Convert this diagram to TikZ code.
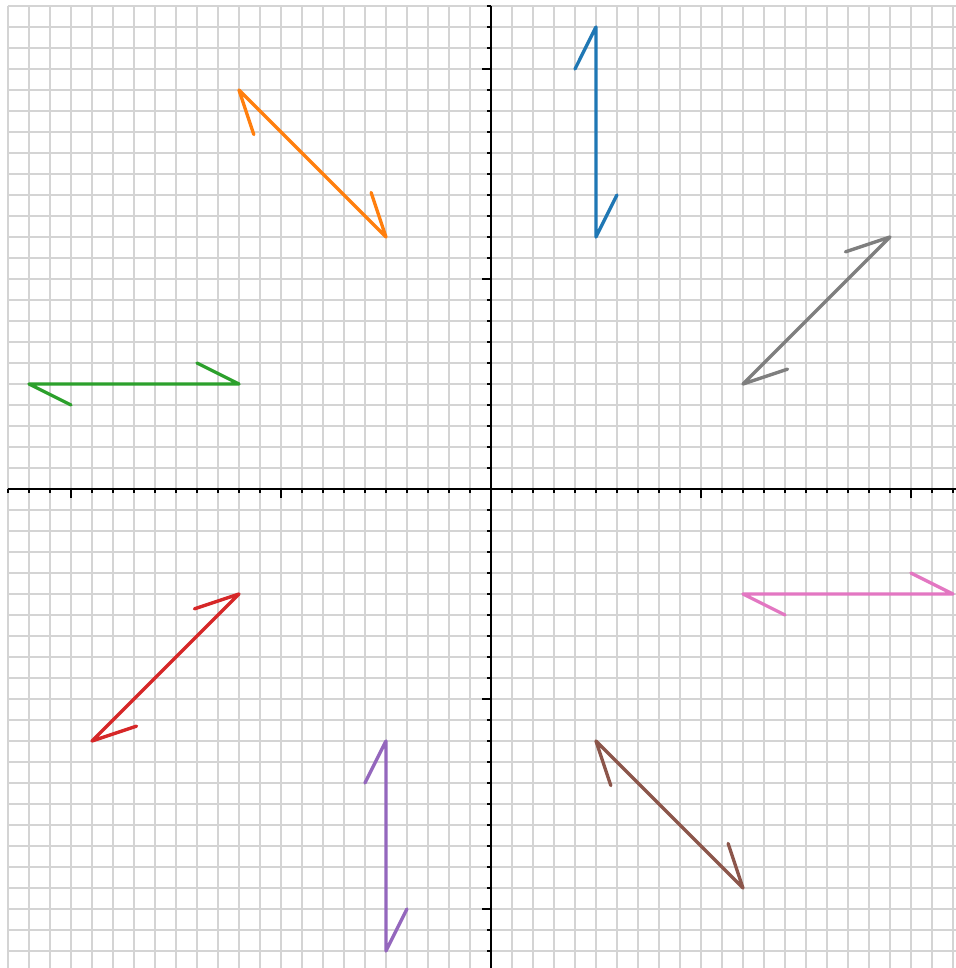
\documentclass[tikz,border=0pt]{standalone}
\usetikzlibrary{calc}
\definecolor{tabblue}{HTML}{1F77B4}
\definecolor{taborange}{HTML}{FF7F0E}
\definecolor{tabgreen}{HTML}{2CA02C}
\definecolor{tabred}{HTML}{D62728}
\definecolor{tabpurple}{HTML}{9467BD}
\definecolor{tabbrown}{HTML}{8C564B}
\definecolor{tabpink}{HTML}{E377C2}
\definecolor{tabgray}{HTML}{7F7F7F}
\definecolor{gridcol}{HTML}{D4D4D4}
\tikzset{
  gridline/.style={draw=gridcol, line width=0.45pt},
  axisline/.style={draw=black, line width=0.6pt},
  tickline/.style={draw=black, line width=0.45pt},
  zarrow/.style={line width=0.95pt, line join=round, line cap=round},
}
\newcommand{\zarr}[3]{%
  \draw[zarrow, #3] ($(#1)!0.4696cm!-26.565:(#2)$) -- (#1) -- (#2) -- ($(#2)!0.4696cm!-26.565:(#1)$);%
}
\begin{document}
\begin{tikzpicture}[x=0.21cm, y=0.21cm]
  \useasboundingbox (-23.381,-22.810) rectangle (22.143,23.286);
  \clip (-23.381,-22.810) rectangle (22.143,23.286);
  \fill[white] (-23.381,-22.810) rectangle (22.143,23.286);
  % grid
  \foreach \i in {-23,...,23} {
    \draw[gridline] (\i,-23) -- (\i,23);
    \draw[gridline] (-23,\i) -- (23,\i);
  }
  % axes
  \draw[axisline] (-23,0) -- (23,0);
  \draw[axisline] (0,-23) -- (0,23);
  % ticks
  \foreach \i in {-23,...,23} {
    \draw[tickline] (\i,0) -- (\i,-0.2);
    \draw[tickline] (0,\i) -- (-0.2,\i);
  }
  \foreach \i in {-20,-10,10,20} {
    \draw[tickline] (\i,0) -- (\i,-0.43);
    \draw[tickline] (0,\i) -- (-0.43,\i);
  }
  % arrow endpoints
  \coordinate (b1) at (5,22);   \coordinate (b2) at (5,12);
  \coordinate (o1) at (-12,19); \coordinate (o2) at (-5,12);
  \coordinate (g1) at (-22,5);  \coordinate (g2) at (-12,5);
  \coordinate (r1) at (-12,-5); \coordinate (r2) at (-19,-12);
  \coordinate (p1) at (-5,-12); \coordinate (p2) at (-5,-22);
  \coordinate (k1) at (12,-5);  \coordinate (k2) at (22,-5);
  \coordinate (n1) at (5,-12);  \coordinate (n2) at (12,-19);
  \coordinate (y1) at (12,5);   \coordinate (y2) at (19,12);
  \zarr{b1}{b2}{tabblue}
  \zarr{o1}{o2}{taborange}
  \zarr{g1}{g2}{tabgreen}
  \zarr{r1}{r2}{tabred}
  \zarr{p1}{p2}{tabpurple}
  \zarr{k1}{k2}{tabpink}
  \zarr{n1}{n2}{tabbrown}
  \zarr{y1}{y2}{tabgray}
\end{tikzpicture}
\end{document}
